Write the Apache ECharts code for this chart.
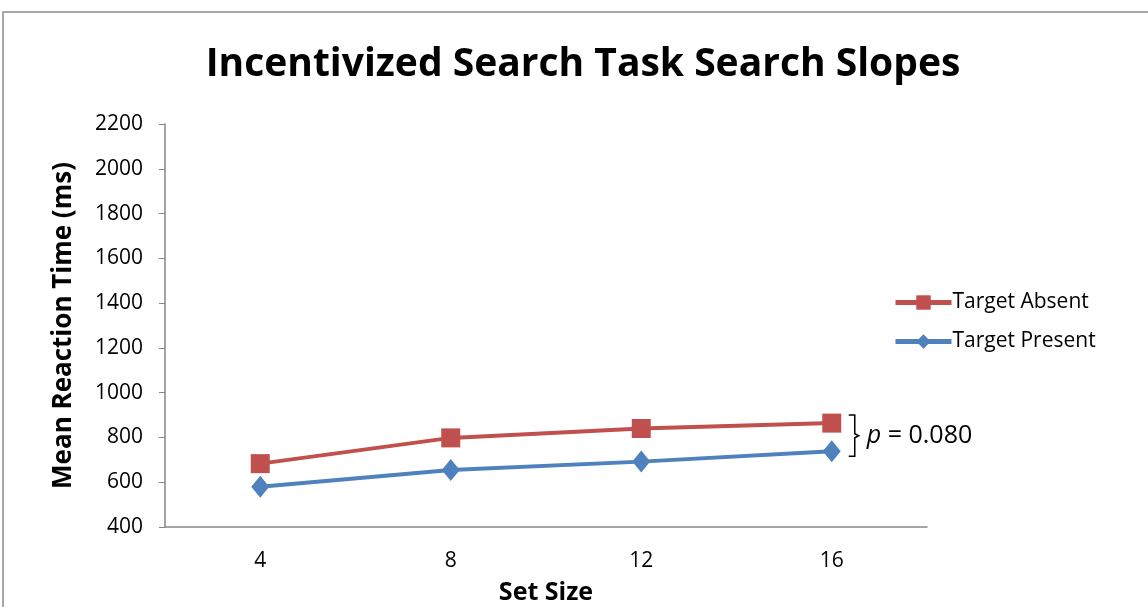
<!DOCTYPE html>
<html>
<head>
<meta charset="utf-8">
<script src="https://cdn.jsdelivr.net/npm/echarts@6/dist/echarts.min.js"></script>
<style>
  html, body { margin: 0; padding: 0; background: #fff; }
  #chart { width: 1148px; height: 607px; }
</style>
</head>
<body>
<div id="chart"></div>
<script>
const setSizes = ['4', '8', '12', '16'];
const targetAbsent = [683, 798, 840, 864];
const targetPresent = [580, 655, 692, 738];
const pLabel = '0.080';

const font = '"Open Sans", "Noto Sans", sans-serif';
const chart = echarts.init(document.getElementById('chart'));

chart.setOption({
  animation: false,
  title: {
    text: 'Incentivized Search Task Search Slopes',
    left: 578,
    top: 40,
    textAlign: 'center',
    textStyle: { fontFamily: font, fontWeight: 'bold', fontSize: 39, color: '#000' }
  },
  legend: {
    orient: 'vertical',
    left: 888,
    top: 287,
    itemWidth: 56,
    itemHeight: 18,
    itemGap: 18,
    lineStyle: { width: 5 },
    textStyle: { fontFamily: font, fontSize: 21, color: '#000', padding: [0, 0, 0, -4] },
    data: ['Target Absent', 'Target Present']
  },
  grid: { left: 165, right: 221, top: 124, bottom: 80, containLabel: false, outerBoundsMode: 'none' },
  xAxis: {
    type: 'category',
    data: setSizes,
    name: 'Set Size',
    nameLocation: 'middle',
    nameGap: 53,
    nameTextStyle: { fontFamily: font, fontWeight: 'bold', fontSize: 25, color: '#000' },
    axisLine: { lineStyle: { color: '#868686', width: 1.5 } },
    axisTick: { length: 8, lineStyle: { color: '#868686' } },
    axisLabel: { fontFamily: font, fontSize: 21, color: '#000', margin: 24 }
  },
  yAxis: {
    type: 'value',
    min: 400,
    max: 2200,
    interval: 200,
    name: 'Mean Reaction Time (ms)',
    nameLocation: 'middle',
    nameGap: 88,
    nameTextStyle: { fontFamily: font, fontWeight: 'bold', fontSize: 26, color: '#000' },
    axisLine: { show: true, lineStyle: { color: '#868686', width: 1.5 } },
    axisTick: { show: true, length: 6, lineStyle: { color: '#868686' } },
    splitLine: { show: false },
    axisLabel: { fontFamily: font, fontSize: 21, color: '#000', margin: 22, formatter: v => String(v) }
  },
  series: [
    {
      name: 'Target Absent',
      type: 'line',
      data: targetAbsent,
      symbol: 'rect',
      symbolSize: 19,
      lineStyle: { color: '#C0504D', width: 4 },
      itemStyle: { color: '#C0504D' }
    },
    {
      name: 'Target Present',
      type: 'line',
      data: targetPresent,
      symbol: 'diamond',
      symbolSize: [18, 22],
      lineStyle: { color: '#4F81BD', width: 4 },
      itemStyle: { color: '#4F81BD' }
    }
  ]
});

// bracket + p value next to the last points, placed from the data
const last = setSizes.length - 1;
const pA = chart.convertToPixel({ seriesIndex: 0 }, [last, targetAbsent[last]]);
const pP = chart.convertToPixel({ seriesIndex: 1 }, [last, targetPresent[last]]);
const bx = pA[0] + 17;
const y1 = pA[1] - 8, y2 = pP[1] + 5, ym = (y1 + y2) / 2;

chart.setOption({
  graphic: [
    {
      type: 'rect',
      shape: { x: 3, y: 12, width: 1160, height: 620 },
      style: { fill: 'none', stroke: '#8a8a8a', lineWidth: 1.5 },
      silent: true
    },
    {
      type: 'polyline',
      shape: { points: [[bx, y1], [bx + 6, y1], [bx + 6, ym - 2], [bx + 10, ym], [bx + 6, ym + 2], [bx + 6, y2], [bx, y2]] },
      style: { fill: 'none', stroke: '#000', lineWidth: 1.5 }
    },
    {
      type: 'text',
      x: bx + 18,
      y: ym,
      style: {
        text: '{i|p} = ' + pLabel,
        verticalAlign: 'middle',
        fontFamily: font,
        fontSize: 25,
        fill: '#000',
        rich: { i: { fontStyle: 'italic', fontFamily: font, fontSize: 25 } }
      }
    }
  ]
});
</script>
</body>
</html>
